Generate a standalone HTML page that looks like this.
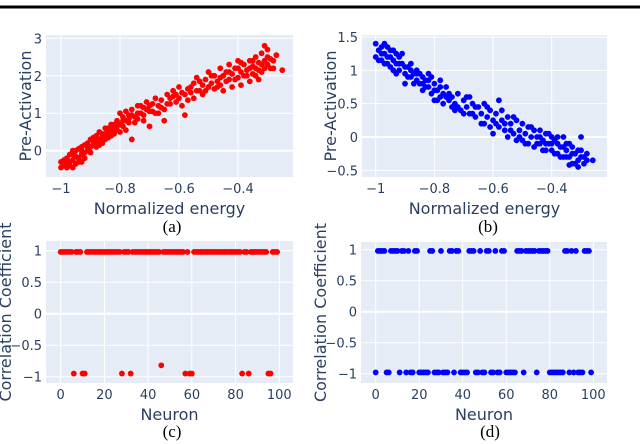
<!DOCTYPE html>
<html><head><meta charset="utf-8"><style>
body{margin:0;background:#fff;width:640px;height:444px;overflow:hidden}
svg{display:block}
text{font-family:"DejaVu Sans","Liberation Sans",sans-serif;fill:#2a3f5f}
.cap{font-family:"Liberation Serif",serif;fill:#000;font-size:17px}
</style></head><body>
<svg id="s" width="640" height="444">
<line x1="0" y1="7" x2="640" y2="7" stroke="#000" stroke-width="3"/>
</svg>
<script>
const aPts=[[-1,-0.45],[-1,-0.3],[-0.99,-0.4],[-0.98,-0.2],[-0.98,-0.35],[-0.97,-0.1],[-0.97,-0.3],[-0.96,-0.25],[-0.96,0],[-0.95,-0.15],[-0.95,-0.35],[-0.94,0.05],[-0.94,-0.2],[-0.93,0.1],[-0.93,-0.1],[-0.92,0.15],[-0.92,-0.05],[-0.91,0.2],[-0.91,0.0],[-0.90,0.1],[-0.90,0.3],[-0.89,0.15],[-0.89,0.35],[-0.88,0.25],[-0.88,0.4],[-0.87,0.3],[-0.87,0.5],[-0.86,0.35],[-0.86,0.2],[-0.85,0.45],[-0.85,0.6],[-0.84,0.5],[-0.84,0.35],[-0.83,0.55],[-0.83,0.7],[-0.82,0.6],[-0.82,0.45],[-0.81,0.8],[-0.81,0.55],[-0.80,0.7],[-0.80,1.0],[-0.79,0.65],[-0.79,0.9],[-0.78,0.8],[-0.78,1.05],[-0.77,0.75],[-0.77,0.95],[-0.76,0.3],[-0.76,1.1],[-0.75,0.9],[-0.74,1.2],[-0.74,0.85],[-0.73,1.0],[-0.72,1.15],[-0.72,0.95],[-0.71,1.3],[-0.70,1.05],[-0.70,0.65],[-0.69,1.25],[-0.68,1.4],[-0.68,1.0],[-0.67,1.2],[-0.66,1.35],[-0.65,1.1],[-0.65,0.8],[-0.64,1.5],[-0.63,1.25],[-0.62,1.45],[-0.62,1.6],[-0.61,1.3],[-0.60,1.7],[-0.60,1.4],[-0.59,1.2],[-0.58,1.5],[-0.58,0.95],[-0.57,1.65],[-0.56,1.55],[-0.55,1.8],[-0.55,1.4],[-0.54,1.95],[-0.53,1.6],[-0.52,1.75],[-0.52,1.5],[-0.51,1.9],[-0.50,1.7],[-0.50,2.1],[-0.49,1.8],[-0.48,1.65],[-0.48,2.0],[-0.47,1.85],[-0.46,2.2],[-0.46,1.75],[-0.45,2.0],[-0.45,1.6],[-0.44,2.1],[-0.43,1.9],[-0.43,2.3],[-0.42,2.05],[-0.42,1.7],[-0.41,2.2],[-0.40,1.95],[-0.40,2.4],[-0.39,2.1],[-0.39,1.75],[-0.38,2.3],[-0.38,2.0],[-0.37,2.15],[-0.36,2.4],[-0.36,1.85],[-0.35,2.25],[-0.35,2.05],[-0.34,2.5],[-0.34,2.2],[-0.33,1.9],[-0.33,2.35],[-0.32,2.6],[-0.32,2.1],[-0.31,2.4],[-0.31,2.8],[-0.30,2.3],[-0.30,2.7],[-0.29,2.45],[-0.28,2.2],[-0.27,2.55],[-0.25,2.15],
[-0.99,-0.25],[-0.98,-0.45],[-0.97,-0.4],[-0.96,-0.1],[-0.95,0.0],[-0.94,-0.3],[-0.93,0.0],[-0.92,-0.2],[-0.91,0.1],[-0.90,-0.05],[-0.89,0.25],[-0.88,0.1],[-0.87,0.15],[-0.86,0.45],[-0.85,0.3],[-0.84,0.6],[-0.83,0.4],[-0.82,0.7],[-0.81,0.65],[-0.80,0.5],[-0.79,0.8],[-0.78,0.55],[-0.77,0.85],[-0.76,0.95],[-0.75,0.75],[-0.74,1.0],[-0.73,1.2],[-0.72,0.8],[-0.71,1.1],[-0.70,1.2],[-0.69,1.05],[-0.67,1.0],[-0.66,1.15],[-0.64,1.25],[-0.63,1.4],[-0.61,1.5],[-0.59,1.55],[-0.57,1.35],[-0.56,1.7],[-0.54,1.6],[-0.53,1.85],[-0.51,1.6],[-0.49,2.0],[-0.47,1.7],[-0.46,1.95],[-0.44,1.85],[-0.43,2.1],[-0.41,1.9],[-0.40,2.2],[-0.39,2.35],[-0.37,2.0],[-0.36,2.2],[-0.35,2.4],[-0.34,2.0],[-0.33,2.15],[-0.32,2.3],[-0.31,2.2],[-0.30,2.5],[-0.29,2.2],[-0.28,2.4],[-0.96,-0.45],[-0.93,-0.3]];
const bPts=[[-1,1.4],[-1,1.2],[-0.99,1.3],[-0.98,1.35],[-0.98,1.15],[-0.97,1.25],[-0.97,1.1],[-0.96,1.35],[-0.96,1.2],[-0.95,1.05],[-0.95,1.3],[-0.94,1.15],[-0.94,1.0],[-0.93,1.25],[-0.93,1.1],[-0.92,1.0],[-0.92,1.2],[-0.91,1.1],[-0.90,0.95],[-0.90,0.8],[-0.89,1.05],[-0.88,0.9],[-0.88,1.1],[-0.87,0.95],[-0.86,0.85],[-0.86,1.0],[-0.85,0.8],[-0.84,0.9],[-0.84,0.7],[-0.83,0.85],[-0.82,0.75],[-0.82,0.95],[-0.81,0.65],[-0.80,0.8],[-0.80,0.55],[-0.79,0.7],[-0.78,0.6],[-0.78,0.85],[-0.77,0.65],[-0.76,0.75],[-0.75,0.55],[-0.74,0.6],[-0.74,0.45],[-0.73,0.5],[-0.72,0.65],[-0.71,0.4],[-0.70,0.55],[-0.69,0.45],[-0.68,0.35],[-0.68,0.6],[-0.67,0.5],[-0.66,0.3],[-0.65,0.45],[-0.64,0.35],[-0.63,0.5],[-0.63,0.2],[-0.62,0.3],[-0.61,0.4],[-0.60,0.25],[-0.60,0.05],[-0.59,0.35],[-0.58,0.15],[-0.58,0.55],[-0.57,0.25],[-0.56,0.1],[-0.55,0.3],[-0.55,0.0],[-0.54,0.2],[-0.53,0.05],[-0.52,0.25],[-0.52,-0.05],[-0.51,0.1],[-0.50,0.2],[-0.50,-0.05],[-0.49,0.05],[-0.48,0.15],[-0.48,-0.1],[-0.47,0.0],[-0.46,0.1],[-0.46,-0.15],[-0.45,0.0],[-0.44,-0.1],[-0.44,0.1],[-0.43,-0.05],[-0.42,-0.2],[-0.42,0.05],[-0.41,-0.1],[-0.40,0.0],[-0.40,-0.2],[-0.39,-0.05],[-0.38,-0.25],[-0.38,-0.1],[-0.37,-0.15],[-0.36,0.0],[-0.36,-0.3],[-0.35,-0.1],[-0.35,-0.2],[-0.34,-0.3],[-0.33,-0.15],[-0.33,-0.4],[-0.32,-0.25],[-0.31,-0.35],[-0.30,-0.2],[-0.30,0.0],[-0.29,-0.3],[-0.28,-0.25],[-0.26,-0.35],
[-0.99,1.15],[-0.98,1.25],[-0.97,1.4],[-0.96,1.1],[-0.95,1.2],[-0.94,1.3],[-0.93,0.95],[-0.92,1.1],[-0.91,1.25],[-0.90,1.05],[-0.89,0.9],[-0.88,1.0],[-0.87,0.8],[-0.86,0.95],[-0.85,0.95],[-0.84,0.8],[-0.83,0.75],[-0.82,0.85],[-0.81,0.9],[-0.80,0.7],[-0.79,0.55],[-0.78,0.75],[-0.77,0.5],[-0.76,0.6],[-0.75,0.65],[-0.73,0.4],[-0.72,0.45],[-0.70,0.35],[-0.69,0.6],[-0.67,0.35],[-0.66,0.45],[-0.64,0.2],[-0.62,0.45],[-0.61,0.15],[-0.59,0.2],[-0.57,0.4],[-0.56,0.2],[-0.54,0.1],[-0.53,0.3],[-0.51,0.0],[-0.49,-0.1],[-0.47,0.15],[-0.45,-0.1],[-0.44,0.0],[-0.43,-0.2],[-0.42,-0.1],[-0.41,0.05],[-0.40,-0.1],[-0.39,-0.25],[-0.38,0.0],[-0.37,-0.3],[-0.36,-0.15],[-0.35,-0.3],[-0.34,-0.1],[-0.33,-0.25],[-0.32,-0.4],[-0.31,-0.2],[-0.30,-0.3],[-0.29,-0.4],[-0.28,-0.35],[-0.34,-0.42],[-0.31,-0.45]];
const cNeg=[6,10,11,28,32,57,59,60,83,86,95,96];
const cMid=[46];
const dPos=[1,2,3,4,7,8,9,10,12,13,15,18,19,25,26,30,34,35,37,38,43,44,45,48,51,52,55,58,59,65,66,67,69,70,71,72,73,75,76,77,78,79,87,88,90,92,96,97,98];
const xTicksE=[-1,-0.8,-0.6,-0.4];
const yTicksA=[0,1,2,3];
const yTicksB=[-0.5,0,0.5,1,1.5];
const xTicksN=[0,20,40,60,80,100];
const yTicksC=[-1,-0.5,0,0.5,1];

const S=document.getElementById('s'),NS='http://www.w3.org/2000/svg';
function el(t,a,p){const e=document.createElementNS(NS,t);for(const k in a)e.setAttribute(k,a[k]);(p||S).appendChild(e);return e;}
function lin(d0,d1,r0,r1){return v=>r0+(v-d0)/(d1-d0)*(r1-r0);}
function panel(o){
  const g=el('g',{});
  
  
  const bg=el('rect',{x:o.l,y:o.t,width:o.r-o.l,height:o.b-o.t,fill:'#e5ecf6'},g);
  
  o.xt.forEach(v=>{const x=o.X(v);
    const ln=el('line',{x1:x,x2:x,y1:o.t,y2:o.b,stroke:'#fff','stroke-width':1},g);
    
    const t=el('text',{x:x,y:o.b+16,'font-size':13,'text-anchor':'middle'},g);t.textContent=String(v).replace('-','\u2212');
    });
  o.yt.forEach(v=>{const y=o.Y(v);
    const ln=el('line',{x1:o.l,x2:o.r,y1:y,y2:y,stroke:'#fff','stroke-width':v===0?2:1},g);
    
    const t=el('text',{x:o.l-4,y:y+5,'font-size':13,'text-anchor':'end'},g);t.textContent=String(v).replace('-','\u2212');
    });
  o.pts.forEach(p=>{const c=el('circle',{cx:o.X(p[0]),cy:o.Y(p[1]),r:2.9,fill:o.col},g);
    });
  const xl=el('text',{x:(o.l+o.r)/2,y:o.b+37,'font-size':16,'text-anchor':'middle'},g);xl.textContent=o.xlab;
  
  const yc=(o.t+o.b)/2;
  const yl=el('text',{x:o.ylx,y:yc,'font-size':16,'text-anchor':'middle',transform:`rotate(-90 ${o.ylx} ${yc})`},g);yl.textContent=o.ylab;
  
  const cp=el('text',{x:o.capx,y:o.capy,'text-anchor':'middle',class:'cap'},g);cp.textContent=o.cap;
  
}
panel({name:'panel-a',l:46,r:293,t:35,b:177,X:lin(-1,-0.4,61,238),Y:lin(0,3,150.7,38.3),xt:xTicksE,yt:yTicksA,pts:aPts,col:'#ff0000',xlab:'Normalized energy',ylab:'Pre-Activation',ylx:31,cap:'(a)',capx:172,capy:232});
panel({name:'panel-b',l:362,r:607,t:35,b:177,X:lin(-1,-0.4,375.7,551.7),Y:lin(0,1.5,137,37),xt:xTicksE,yt:yTicksB,pts:bPts,col:'#0000ff',xlab:'Normalized energy',ylab:'Pre-Activation',ylx:336,cap:'(b)',capx:488,capy:232});
const cPts=[];for(let i=0;i<100;i++)cPts.push([i,cMid.includes(i)?-0.82:cNeg.includes(i)?-0.95:0.98]);
const dPts=[];for(let i=0;i<100;i++)dPts.push([i,dPos.includes(i)?0.98:-0.98]);
panel({name:'panel-c',l:46,r:293,t:241,b:383,X:lin(0,100,60.7,279.3),Y:lin(-1,1,376.7,250.7),xt:xTicksN,yt:yTicksC,pts:cPts,col:'#ff0000',xlab:'Neuron',ylab:'Correlation Coefficient',ylx:11,cap:'(c)',capx:172,capy:437});
panel({name:'panel-d',l:361,r:607,t:242,b:383,X:lin(0,100,375.7,593.3),Y:lin(-1,1,373.7,249.7),xt:xTicksN,yt:yTicksC,pts:dPts,col:'#0000ff',xlab:'Neuron',ylab:'Correlation Coefficient',ylx:326,cap:'(d)',capx:490,capy:437});
</script>
</body></html>
